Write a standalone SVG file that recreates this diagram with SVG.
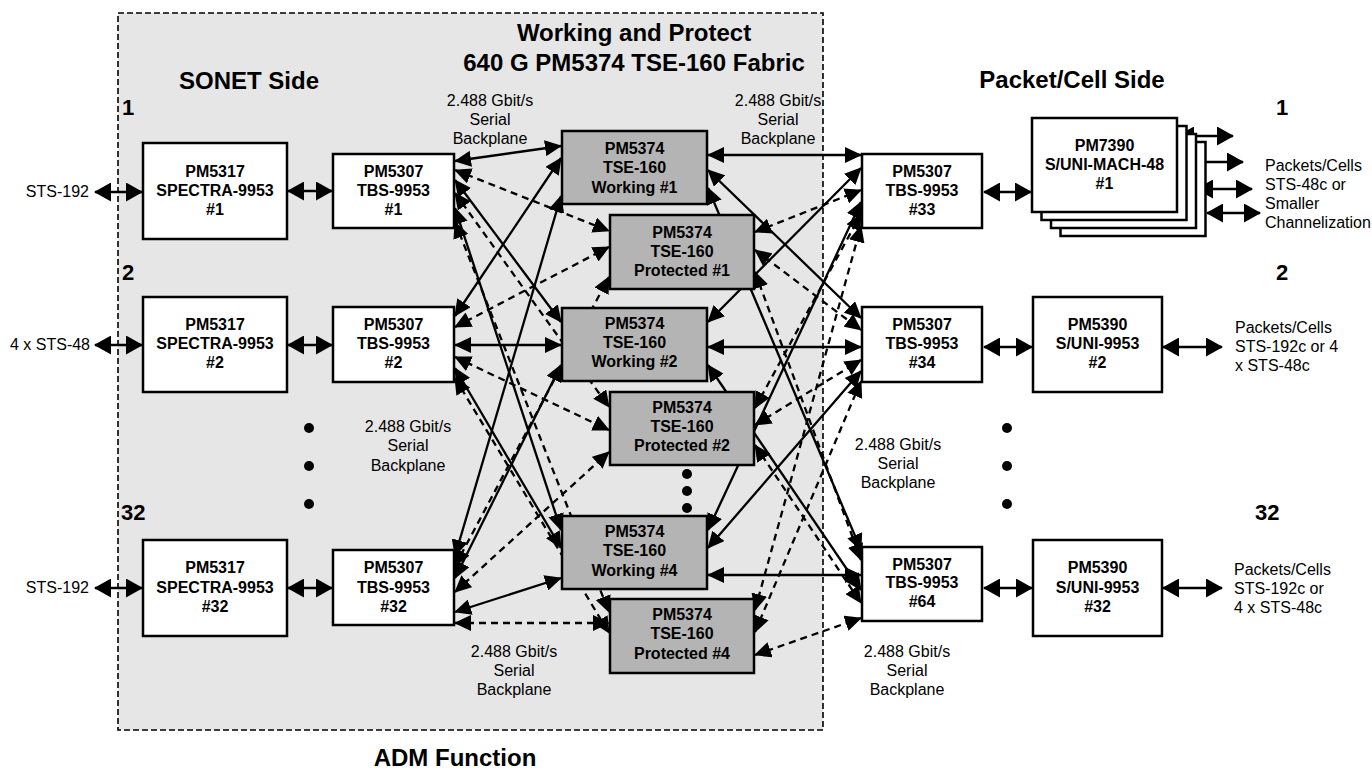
<svg xmlns="http://www.w3.org/2000/svg" width="1372" height="770" viewBox="0 0 1372 770">
<style>
text{font-family:"Liberation Sans",Arial,sans-serif;fill:#000}
.t{font-size:24px;font-weight:bold}
.n{font-size:22px;font-weight:bold}
.b{font-size:16px;font-weight:bold;text-anchor:middle}
.r{font-size:16px}
.c{font-size:16px;text-anchor:middle}
.box{fill:#fff;stroke:#000;stroke-width:2.5}
.tse{fill:#b4b4b4;stroke:#000;stroke-width:2.5}
.io{stroke:#000;stroke-width:2.5;fill:none;marker-start:url(#ahb);marker-end:url(#ahb)}
.s{stroke:#000;stroke-width:2.3;fill:none;marker-start:url(#ah);marker-end:url(#ah)}
.d{stroke:#000;stroke-width:2.3;fill:none;stroke-dasharray:7,5;marker-start:url(#ah);marker-end:url(#ah)}
</style>
<defs>
<marker id="ah" viewBox="0 0 17 16" refX="16" refY="8" markerWidth="17" markerHeight="16" markerUnits="userSpaceOnUse" orient="auto-start-reverse"><path d="M0,0 L17,8 L0,16 z" fill="#000"/></marker>
<marker id="ahb" viewBox="0 0 17 19" refX="16" refY="9.5" markerWidth="17" markerHeight="19" markerUnits="userSpaceOnUse" orient="auto-start-reverse"><path d="M0,0 L17,9.5 L0,19 z" fill="#000"/></marker>
</defs>
<rect width="1372" height="770" fill="#fff"/>
<rect id="adm-region" x="118" y="13" width="705" height="717" fill="#e6e6e6" stroke="#000" stroke-width="1.6" stroke-dasharray="6,3"/>

<g id="titles">
<text class="t" x="249" y="89" text-anchor="middle">SONET Side</text>
<text class="t" x="634" y="41" text-anchor="middle">Working and Protect</text>
<text class="t" x="634" y="71" text-anchor="middle">640 G PM5374 TSE-160 Fabric</text>
<text class="t" x="1072" y="88" text-anchor="middle">Packet/Cell Side</text>
<text class="t" x="455" y="766" text-anchor="middle">ADM Function</text>
<text class="n" x="122" y="115">1</text>
<text class="n" x="122" y="280">2</text>
<text class="n" x="121" y="520">32</text>
<text class="n" x="1276" y="115">1</text>
<text class="n" x="1276" y="280">2</text>
<text class="n" x="1255" y="520">32</text>
</g>

<g id="labels">
<text class="r" x="89" y="197" text-anchor="end">STS-192</text>
<text class="r" x="90" y="350" text-anchor="end">4 x STS-48</text>
<text class="r" x="89" y="593" text-anchor="end">STS-192</text>
<text class="c" x="490" y="106">2.488 Gbit/s</text><text class="c" x="490" y="125">Serial</text><text class="c" x="490" y="144">Backplane</text>
<text class="c" x="778" y="106">2.488 Gbit/s</text><text class="c" x="778" y="125">Serial</text><text class="c" x="778" y="144">Backplane</text>
<text class="c" x="408" y="432">2.488 Gbit/s</text><text class="c" x="408" y="451">Serial</text><text class="c" x="408" y="471">Backplane</text>
<text class="c" x="898" y="450">2.488 Gbit/s</text><text class="c" x="898" y="469">Serial</text><text class="c" x="898" y="488">Backplane</text>
<text class="c" x="514" y="657">2.488 Gbit/s</text><text class="c" x="514" y="676">Serial</text><text class="c" x="514" y="695">Backplane</text>
<text class="c" x="907" y="657">2.488 Gbit/s</text><text class="c" x="907" y="676">Serial</text><text class="c" x="907" y="695">Backplane</text>
<text class="r" x="1265" y="171">Packets/Cells</text><text class="r" x="1265" y="190">STS-48c or</text><text class="r" x="1265" y="209">Smaller</text><text class="r" x="1265" y="228">Channelization</text>
<text class="r" x="1235" y="333">Packets/Cells</text><text class="r" x="1235" y="352">STS-192c or 4</text><text class="r" x="1235" y="371">x STS-48c</text>
<text class="r" x="1234" y="575">Packets/Cells</text><text class="r" x="1234" y="594">STS-192c or</text><text class="r" x="1234" y="613">4 x STS-48c</text>
</g>

<g id="dots" fill="#000">
<circle cx="309" cy="428" r="5"/><circle cx="309" cy="466" r="5"/><circle cx="309" cy="504" r="5"/>
<circle cx="1007" cy="428" r="5"/><circle cx="1007" cy="466" r="5"/><circle cx="1007" cy="504" r="5"/>
<circle cx="687" cy="474" r="5"/><circle cx="687" cy="491" r="5"/><circle cx="687" cy="508" r="5"/>
</g>

<g id="connectors">
<line class="io" x1="95" y1="192" x2="142" y2="192"/>
<line class="io" x1="95" y1="345" x2="142" y2="345"/>
<line class="io" x1="95" y1="588" x2="142" y2="588"/>
<line class="io" x1="288" y1="191" x2="332" y2="191"/>
<line class="io" x1="288" y1="345" x2="332" y2="345"/>
<line class="io" x1="288" y1="588" x2="332" y2="588"/>
<line class="io" x1="984" y1="192" x2="1031" y2="192"/>
<line class="io" x1="984" y1="347" x2="1032" y2="347"/>
<line class="io" x1="984" y1="588" x2="1032" y2="588"/>
<line class="io" x1="1163" y1="347" x2="1222" y2="347"/>
<line class="io" x1="1163" y1="588" x2="1222" y2="588"/>
<line class="io" x1="1178" y1="136" x2="1233" y2="136"/>
<line class="io" x1="1188" y1="162" x2="1243" y2="162"/>
<line class="io" x1="1197" y1="189" x2="1252" y2="189"/>
<line class="io" x1="1207" y1="213" x2="1260" y2="213"/>
<!-- left mesh: TBS#1 -->
<line class="s" x1="455" y1="161" x2="561" y2="146"/>
<line class="d" x1="455" y1="170" x2="609" y2="231"/>
<line class="s" x1="455" y1="180" x2="561" y2="322"/>
<line class="d" x1="455" y1="193" x2="609" y2="407"/>
<line class="s" x1="455" y1="208" x2="561" y2="530"/>
<line class="d" x1="455" y1="222" x2="609" y2="612"/>
<!-- TBS#2 -->
<line class="s" x1="455" y1="316" x2="561" y2="158"/>
<line class="d" x1="455" y1="327" x2="609" y2="247"/>
<line class="s" x1="455" y1="345" x2="561" y2="345"/>
<line class="d" x1="455" y1="357" x2="609" y2="430"/>
<line class="s" x1="455" y1="368" x2="561" y2="548"/>
<line class="d" x1="455" y1="378" x2="609" y2="633"/>
<!-- TBS#32 -->
<line class="s" x1="455" y1="556" x2="561" y2="196"/>
<line class="d" x1="455" y1="566" x2="609" y2="277"/>
<line class="s" x1="455" y1="578" x2="561" y2="365"/>
<line class="d" x1="455" y1="592" x2="609" y2="452"/>
<line class="s" x1="455" y1="612" x2="561" y2="578"/>
<line class="d" x1="455" y1="623" x2="609" y2="623"/>
<!-- right mesh -->
<line class="s" x1="708" y1="155" x2="861" y2="155"/>
<line class="s" x1="708" y1="170" x2="861" y2="318"/>
<line class="s" x1="708" y1="188" x2="861" y2="550"/>
<line class="d" x1="755" y1="232" x2="861" y2="190"/>
<line class="d" x1="755" y1="250" x2="861" y2="330"/>
<line class="d" x1="755" y1="272" x2="861" y2="560"/>
<line class="s" x1="708" y1="322" x2="861" y2="168"/>
<line class="s" x1="708" y1="347" x2="861" y2="347"/>
<line class="s" x1="708" y1="365" x2="861" y2="590"/>
<line class="d" x1="755" y1="408" x2="861" y2="214"/>
<line class="d" x1="755" y1="425" x2="861" y2="360"/>
<line class="d" x1="755" y1="445" x2="861" y2="603"/>
<line class="s" x1="708" y1="530" x2="861" y2="202"/>
<line class="s" x1="708" y1="548" x2="861" y2="371"/>
<line class="s" x1="708" y1="575" x2="861" y2="575"/>
<line class="d" x1="755" y1="610" x2="861" y2="226"/>
<line class="d" x1="755" y1="632" x2="861" y2="381"/>
<line class="d" x1="755" y1="655" x2="861" y2="618"/>
</g>

<g id="spectra1"><rect class="box" x="143" y="143" width="144" height="96"/><text class="b" x="215" y="177">PM5317</text><text class="b" x="215" y="196">SPECTRA-9953</text><text class="b" x="215" y="215">#1</text></g>
<g id="spectra2"><rect class="box" x="143" y="297" width="144" height="95"/><text class="b" x="215" y="330">PM5317</text><text class="b" x="215" y="349">SPECTRA-9953</text><text class="b" x="215" y="368">#2</text></g>
<g id="spectra32"><rect class="box" x="143" y="540" width="144" height="96"/><text class="b" x="215" y="573">PM5317</text><text class="b" x="215" y="593">SPECTRA-9953</text><text class="b" x="215" y="612">#32</text></g>

<g id="tbs1"><rect class="box" x="333" y="154" width="121" height="74"/><text class="b" x="393.5" y="177">PM5307</text><text class="b" x="393.5" y="196">TBS-9953</text><text class="b" x="393.5" y="215">#1</text></g>
<g id="tbs2"><rect class="box" x="333" y="307" width="121" height="75"/><text class="b" x="393.5" y="330">PM5307</text><text class="b" x="393.5" y="349">TBS-9953</text><text class="b" x="393.5" y="368">#2</text></g>
<g id="tbs32"><rect class="box" x="333" y="550" width="121" height="75"/><text class="b" x="393.5" y="573">PM5307</text><text class="b" x="393.5" y="593">TBS-9953</text><text class="b" x="393.5" y="612">#32</text></g>

<g id="tse-w1"><rect class="tse" x="562" y="131" width="145" height="73"/><text class="b" x="634.5" y="154">PM5374</text><text class="b" x="634.5" y="173">TSE-160</text><text class="b" x="634.5" y="193">Working #1</text></g>
<g id="tse-p1"><rect class="tse" x="610" y="215" width="144" height="74"/><text class="b" x="682" y="238">PM5374</text><text class="b" x="682" y="257">TSE-160</text><text class="b" x="682" y="276">Protected #1</text></g>
<g id="tse-w2"><rect class="tse" x="562" y="308" width="145" height="73"/><text class="b" x="634.5" y="329">PM5374</text><text class="b" x="634.5" y="348">TSE-160</text><text class="b" x="634.5" y="367">Working #2</text></g>
<g id="tse-p2"><rect class="tse" x="610" y="392" width="144" height="73"/><text class="b" x="682" y="413">PM5374</text><text class="b" x="682" y="432">TSE-160</text><text class="b" x="682" y="451">Protected #2</text></g>
<g id="tse-w4"><rect class="tse" x="562" y="516" width="145" height="73"/><text class="b" x="634.5" y="537">PM5374</text><text class="b" x="634.5" y="556">TSE-160</text><text class="b" x="634.5" y="576">Working #4</text></g>
<g id="tse-p4"><rect class="tse" x="610" y="599" width="144" height="74"/><text class="b" x="682" y="620">PM5374</text><text class="b" x="682" y="639">TSE-160</text><text class="b" x="682" y="659">Protected #4</text></g>

<g id="tbs33"><rect class="box" x="862" y="154" width="120" height="74"/><text class="b" x="922" y="177">PM5307</text><text class="b" x="922" y="196">TBS-9953</text><text class="b" x="922" y="215">#33</text></g>
<g id="tbs34"><rect class="box" x="862" y="307" width="120" height="75"/><text class="b" x="922" y="330">PM5307</text><text class="b" x="922" y="349">TBS-9953</text><text class="b" x="922" y="368">#34</text></g>
<g id="tbs64"><rect class="box" x="862" y="547" width="120" height="74"/><text class="b" x="922" y="570">PM5307</text><text class="b" x="922" y="588">TBS-9953</text><text class="b" x="922" y="607">#64</text></g>

<g id="pm7390">
<rect class="box" x="1060.5" y="142" width="145" height="94"/>
<rect class="box" x="1051" y="134" width="145" height="94"/>
<rect class="box" x="1041.5" y="126" width="145" height="94"/>
<rect class="box" x="1032" y="118" width="145" height="94"/>
<text class="b" x="1104.5" y="151">PM7390</text><text class="b" x="1104.5" y="170">S/UNI-MACH-48</text><text class="b" x="1104.5" y="189">#1</text>
</g>
<g id="pm5390-2"><rect class="box" x="1033" y="297" width="129" height="95"/><text class="b" x="1097.5" y="330">PM5390</text><text class="b" x="1097.5" y="349">S/UNI-9953</text><text class="b" x="1097.5" y="368">#2</text></g>
<g id="pm5390-32"><rect class="box" x="1033" y="540" width="129" height="96"/><text class="b" x="1097.5" y="573">PM5390</text><text class="b" x="1097.5" y="593">S/UNI-9953</text><text class="b" x="1097.5" y="612">#32</text></g>
</svg>
